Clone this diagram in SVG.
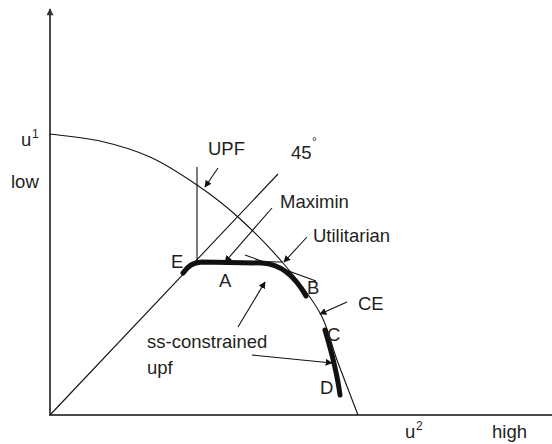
<svg xmlns="http://www.w3.org/2000/svg" width="552" height="444" viewBox="0 0 552 444">
<style>
.t{font-family:"Liberation Sans",Arial,sans-serif;font-size:18.5px;fill:#231f20}
.s{font-family:"Liberation Sans",Arial,sans-serif;font-size:12px;fill:#231f20}
.ax{stroke:#4a4a4a;stroke-width:2;fill:none}
.ln{stroke:#111;stroke-width:1.1;fill:none}
.ar{stroke:#111;stroke-width:1.1;fill:none;marker-end:url(#ah)}
.thick{stroke:#111;stroke-width:5;fill:none;stroke-linecap:round;stroke-linejoin:round}
</style>
<defs>
<marker id="ah" viewBox="0 0 10 10" refX="9" refY="5" markerWidth="7" markerHeight="7" markerUnits="userSpaceOnUse" orient="auto">
<path d="M0,0 L10,5 L0,10 z" fill="#111"/>
</marker>
<marker id="axh" viewBox="0 0 10 10" refX="9" refY="5" markerWidth="8" markerHeight="7" markerUnits="userSpaceOnUse" orient="auto">
<path d="M0,0 L10,5 L0,10 z" fill="#333"/>
</marker>
</defs>
<g id="axes">
<line class="ax" x1="50" y1="415" x2="50" y2="9" marker-end="url(#axh)"/>
<line class="ax" x1="49" y1="415" x2="552" y2="415"/>
</g>
<g id="upf-curve">
<path class="ln" d="M50,134 C58.3,135.2 83.3,137.2 100,141 C116.7,144.8 133.8,149.7 150,157 C166.2,164.3 182.3,175 197,185 C211.7,195 223.7,204 238,217 C252.3,230 269.3,247 283,263 C296.7,279 311,296.8 320,313 C329,329.2 330.7,343 337,360 C343.3,377 354.5,405.8 358,415"/>
</g>
<g id="ss-upf">
<path class="thick" d="M183,273 C188,266 192,263 202,262 L262,263 C282,264 296,278 306,296"/>
<path class="thick" d="M325,330 C331,350 337,372 340,395"/>
</g>
<g id="connectors">
<line class="ln" x1="50" y1="415" x2="278" y2="174"/>
<line class="ln" x1="197" y1="167" x2="197" y2="262"/>
<line class="ln" x1="197" y1="261" x2="283" y2="262"/>
<line class="ln" x1="245" y1="255" x2="316" y2="281"/>
<line class="ar" x1="218" y1="168" x2="205" y2="187"/>
<line class="ar" x1="272" y1="208" x2="225" y2="262"/>
<line class="ar" x1="307" y1="237" x2="284" y2="262"/>
<line class="ar" x1="238" y1="327" x2="265" y2="282"/>
<line class="ar" x1="252" y1="355" x2="332" y2="363"/>
<line class="ar" x1="347" y1="302" x2="320" y2="314"/>
</g>
<g id="labels">
<text class="t" x="21" y="146">u</text><text class="s" x="32" y="138">1</text>
<text class="t" x="11" y="188">low</text>
<text class="t" x="208" y="155">UPF</text>
<text class="t" x="291" y="159">45</text><text class="s" x="312" y="146">°</text>
<text class="t" x="280" y="208">Maximin</text>
<text class="t" x="313" y="242">Utilitarian</text>
<text class="t" x="171" y="268">E</text>
<text class="t" x="219" y="287">A</text>
<text class="t" x="307" y="294">B</text>
<text class="t" x="358" y="310">CE</text>
<text class="t" x="327" y="341">C</text>
<text class="t" x="320" y="394">D</text>
<text class="t" x="147" y="348">ss-constrained</text>
<text class="t" x="147" y="374">upf</text>
<text class="t" x="405" y="438">u</text><text class="s" x="416" y="430">2</text>
<text class="t" x="492" y="438">high</text>
</g>
</svg>
